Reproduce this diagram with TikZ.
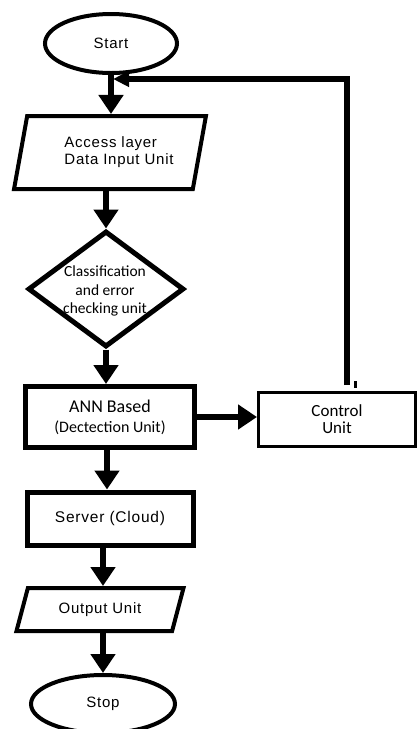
\documentclass[tikz,border=0pt]{standalone}
\usepackage{fontspec}
\setmainfont[LetterSpace=5]{Liberation Sans}
\newfontfamily\calibri{Carlito}
\usetikzlibrary{shapes.geometric,arrows.meta}
\begin{document}
\begin{tikzpicture}[x=1pt,y=-1pt,
  terminal/.style={ellipse,draw,line width=4pt,inner sep=0pt,font=\fontsize{15}{18}\selectfont},
  io/.style={trapezium,trapezium stretches=true,draw,line width=4pt,inner sep=0pt,font=\fontsize{15}{17}\selectfont},
  unit/.style={rectangle,draw,line width=5pt,inner sep=0pt},
  decision/.style={diamond,draw,line width=5pt,inner sep=0pt},
  flow/.style={line width=6pt,-{Triangle[width=24pt,length=19pt]}},
  feedback/.style={line width=5.5pt,-{Triangle[width=15pt,length=16pt]}}]
\useasboundingbox (0,0) rectangle (416,729);
% shapes
\node[terminal,minimum width=132pt,minimum height=59pt] (start) at (111,43.5) {Start};
\node[io,trapezium left angle=72,trapezium right angle=108,minimum width=192pt,minimum height=73pt,align=left] (access) at (110,152.5) {\hspace*{18pt}Access layer\\\hspace*{18pt}Data Input Unit};
\node[decision,minimum width=156pt,minimum height=116pt] (cls) at (106,289) {};
\node[inner sep=0pt,align=center,font=\calibri\fontsize{15.5}{18.5}\selectfont] (clstext) at (105,291) {Classification\\and error\\checking unit};
\node[unit,minimum width=169pt,minimum height=61pt,align=center,font=\calibri\fontsize{16}{20}\selectfont] (ann) at (110,417) {{\fontsize{18}{20}\selectfont ANN Based}\\(Dectection Unit)};
\node[unit,line width=3pt,minimum width=157pt,minimum height=54pt,align=center,font=\calibri\fontsize{17}{17}\selectfont] (ctrl) at (337,419.5) {Control\\Unit};
\node[unit,minimum width=166pt,minimum height=53pt,font=\fontsize{15.5}{18}\selectfont] (server) at (110,518.5) {Server (Cloud)};
\node[io,trapezium left angle=65,trapezium right angle=115,minimum width=168pt,minimum height=43pt] (output) at (100,609.5) {Output Unit};
\node[terminal,minimum width=144pt,minimum height=58pt] (stop) at (103,704) {Stop};
% arrows
\draw[flow] (start.south) -- (access.north -| start.south);
\draw[flow] (access.south -| cls.north) -- (cls.north);
\draw[flow] (cls.south) -- (ann.north -| cls.south);
\draw[flow] ([xshift=-3pt]ann.south) -- ([xshift=-3pt]ann.south |- server.north);
\draw[flow] (server.south -| stop.north) -- (output.north -| stop.north);
\draw[flow] (output.south -| stop.north) -- (stop.north);
\draw[flow] (ann.east) -- (ann.east -| ctrl.west);
% feedback loop
\coordinate (fbfrom) at (347,385);
\coordinate (fbto) at (113,79);
\draw[feedback] (fbfrom) |- (fbto);
\fill (354,381) rectangle (357,388);
\end{tikzpicture}
\end{document}
